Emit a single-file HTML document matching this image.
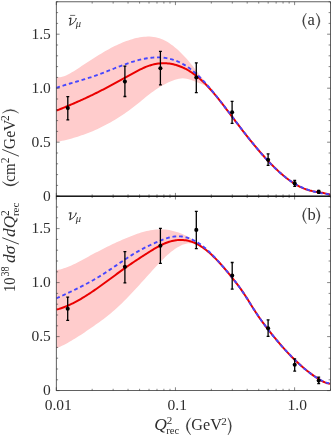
<!DOCTYPE html><html><head><meta charset="utf-8"><style>html,body{margin:0;padding:0;background:#fff;overflow:hidden}body{width:332px;height:435px;position:relative;font-family:"Liberation Serif",serif}</style></head><body><svg width="332" height="435" viewBox="0 0 332 435" style="position:absolute;left:0;top:0;will-change:transform;opacity:0.999"><rect width="332" height="435" fill="#fff"/><clipPath id="ct"><rect x="56.30" y="0" width="274.10" height="196.20"/></clipPath><clipPath id="cb"><rect x="56.30" y="196.20" width="274.10" height="194.40"/></clipPath><g clip-path="url(#ct)"><path d="M56.30 77.18 L58.25 77.29 L60.19 77.14 L62.14 76.77 L64.08 76.19 L66.03 75.43 L67.97 74.52 L69.92 73.49 L71.86 72.36 L73.81 71.16 L75.76 69.92 L77.70 68.66 L79.65 67.39 L81.59 66.12 L83.54 64.83 L85.48 63.55 L87.43 62.27 L89.37 61.00 L91.32 59.73 L93.27 58.48 L95.21 57.23 L97.16 56.01 L99.10 54.81 L101.05 53.63 L102.99 52.47 L104.94 51.34 L106.88 50.23 L108.83 49.16 L110.78 48.11 L112.72 47.10 L114.67 46.12 L116.61 45.18 L118.56 44.27 L120.50 43.41 L122.45 42.58 L124.39 41.80 L126.34 41.07 L128.29 40.38 L130.23 39.74 L132.18 39.15 L134.12 38.61 L136.07 38.12 L138.01 37.70 L139.96 37.33 L141.91 37.03 L143.85 36.80 L145.80 36.66 L147.74 36.59 L149.69 36.62 L151.63 36.74 L153.58 36.96 L155.52 37.29 L157.47 37.73 L159.42 38.29 L161.36 38.97 L163.31 39.78 L165.25 40.72 L167.20 41.81 L169.14 43.03 L171.09 44.38 L173.03 45.84 L174.98 47.41 L176.93 49.07 L178.87 50.83 L180.82 52.69 L182.76 54.65 L184.71 56.71 L186.65 58.87 L188.60 61.11 L190.54 63.42 L192.49 65.79 L194.44 68.20 L196.38 70.66 L198.33 73.15 L200.27 75.65 L202.22 78.16 L204.16 80.67 L206.11 83.16 L208.05 85.62 L210.00 88.05 L210.00 88.73 L208.05 87.30 L206.11 86.10 L204.16 85.07 L202.22 84.19 L200.27 83.42 L198.33 82.70 L196.38 82.01 L194.44 81.30 L192.49 80.54 L190.54 79.79 L188.60 79.15 L186.65 78.69 L184.71 78.42 L182.76 78.35 L180.82 78.47 L178.87 78.77 L176.93 79.21 L174.98 79.80 L173.03 80.49 L171.09 81.27 L169.14 82.12 L167.20 83.03 L165.25 84.00 L163.31 85.03 L161.36 86.12 L159.42 87.28 L157.47 88.50 L155.52 89.79 L153.58 91.14 L151.63 92.56 L149.69 94.04 L147.74 95.56 L145.80 97.11 L143.85 98.69 L141.91 100.29 L139.96 101.88 L138.01 103.46 L136.07 105.03 L134.12 106.56 L132.18 108.06 L130.23 109.52 L128.29 110.94 L126.34 112.33 L124.39 113.68 L122.45 115.00 L120.50 116.28 L118.56 117.53 L116.61 118.75 L114.67 119.93 L112.72 121.08 L110.78 122.20 L108.83 123.29 L106.88 124.34 L104.94 125.37 L102.99 126.36 L101.05 127.32 L99.10 128.25 L97.16 129.16 L95.21 130.03 L93.27 130.88 L91.32 131.70 L89.37 132.48 L87.43 133.25 L85.48 133.98 L83.54 134.69 L81.59 135.37 L79.65 136.03 L77.70 136.66 L75.76 137.27 L73.81 137.85 L71.86 138.41 L69.92 138.94 L67.97 139.45 L66.03 139.94 L64.08 140.40 L62.14 140.85 L60.19 141.27 L58.25 141.67 L56.30 142.05 Z" fill="#ffcccc" stroke="none"/><path d="M56.30 110.67 L57.68 110.13 L59.05 109.57 L60.43 109.02 L61.81 108.46 L63.19 107.90 L64.56 107.33 L65.94 106.76 L67.32 106.18 L68.70 105.60 L70.07 105.02 L71.45 104.43 L72.83 103.84 L74.21 103.24 L75.58 102.64 L76.96 102.04 L78.34 101.42 L79.72 100.81 L81.09 100.19 L82.47 99.56 L83.85 98.93 L85.23 98.30 L86.60 97.66 L87.98 97.01 L89.36 96.36 L90.73 95.70 L92.11 95.04 L93.49 94.37 L94.87 93.69 L96.24 93.01 L97.62 92.33 L99.00 91.63 L100.38 90.93 L101.75 90.23 L103.13 89.52 L104.51 88.80 L105.89 88.08 L107.26 87.35 L108.64 86.61 L110.02 85.87 L111.40 85.13 L112.77 84.38 L114.15 83.63 L115.53 82.88 L116.91 82.13 L118.28 81.37 L119.66 80.61 L121.04 79.86 L122.41 79.10 L123.79 78.34 L125.17 77.58 L126.55 76.83 L127.92 76.07 L129.30 75.32 L130.68 74.57 L132.06 73.82 L133.43 73.08 L134.81 72.34 L136.19 71.61 L137.57 70.88 L138.94 70.16 L140.32 69.46 L141.70 68.78 L143.08 68.13 L144.45 67.51 L145.83 66.92 L147.21 66.38 L148.58 65.88 L149.96 65.42 L151.34 65.01 L152.72 64.64 L154.09 64.31 L155.47 64.03 L156.85 63.79 L158.23 63.59 L159.60 63.44 L160.98 63.33 L162.36 63.26 L163.74 63.24 L165.11 63.26 L166.49 63.33 L167.87 63.44 L169.25 63.59 L170.62 63.79 L172.00 64.04 L173.38 64.33 L174.76 64.66 L176.13 65.04 L177.51 65.47 L178.89 65.94 L180.26 66.45 L181.64 67.01 L183.02 67.62 L184.40 68.27 L185.77 68.97 L187.15 69.71 L188.53 70.50 L189.91 71.34 L191.28 72.22 L192.66 73.15 L194.04 74.13 L195.42 75.15 L196.79 76.22 L198.17 77.33 L199.55 78.50 L200.93 79.70 L202.30 80.96 L203.68 82.27 L205.06 83.62 L206.44 85.02 L207.81 86.46 L209.19 87.95 L210.57 89.48 L211.94 91.05 L213.32 92.65 L214.70 94.29 L216.08 95.96 L217.45 97.66 L218.83 99.38 L220.21 101.13 L221.59 102.89 L222.96 104.67 L224.34 106.47 L225.72 108.27 L227.10 110.09 L228.47 111.91 L229.85 113.74 L231.23 115.57 L232.61 117.39 L233.98 119.21 L235.36 121.03 L236.74 122.84 L238.12 124.65 L239.49 126.45 L240.87 128.24 L242.25 130.03 L243.62 131.80 L245.00 133.56 L246.38 135.32 L247.76 137.06 L249.13 138.79 L250.51 140.51 L251.89 142.21 L253.27 143.90 L254.64 145.57 L256.02 147.23 L257.40 148.86 L258.78 150.49 L260.15 152.09 L261.53 153.67 L262.91 155.23 L264.29 156.78 L265.66 158.30 L267.04 159.79 L268.42 161.27 L269.79 162.72 L271.17 164.14 L272.55 165.54 L273.93 166.91 L275.30 168.26 L276.68 169.57 L278.06 170.86 L279.44 172.12 L280.81 173.35 L282.19 174.54 L283.57 175.70 L284.95 176.83 L286.32 177.92 L287.70 178.98 L289.08 180.01 L290.46 180.99 L291.83 181.94 L293.21 182.85 L294.59 183.72 L295.97 184.55 L297.34 185.34 L298.72 186.09 L300.10 186.80 L301.47 187.46 L302.85 188.08 L304.23 188.65 L305.61 189.18 L306.98 189.65 L308.36 190.09 L309.74 190.48 L311.12 190.82 L312.49 191.14 L313.87 191.43 L315.25 191.69 L316.63 191.94 L318.00 192.18 L319.38 192.41 L320.76 192.63 L322.14 192.86 L323.51 193.10 L324.89 193.36 L326.27 193.63 L327.65 193.93 L329.02 194.27 L330.40 194.63" fill="none" stroke="#ea0000" stroke-width="2.0" stroke-linejoin="round"/><path d="M56.30 87.89 L57.68 87.41 L59.05 86.94 L60.43 86.49 L61.81 86.04 L63.19 85.60 L64.56 85.17 L65.94 84.75 L67.32 84.33 L68.70 83.91 L70.07 83.50 L71.45 83.10 L72.83 82.69 L74.21 82.29 L75.58 81.89 L76.96 81.49 L78.34 81.09 L79.72 80.68 L81.09 80.28 L82.47 79.87 L83.85 79.45 L85.23 79.04 L86.60 78.61 L87.98 78.18 L89.36 77.74 L90.73 77.30 L92.11 76.84 L93.49 76.38 L94.87 75.90 L96.24 75.41 L97.62 74.91 L99.00 74.41 L100.38 73.89 L101.75 73.37 L103.13 72.84 L104.51 72.31 L105.89 71.77 L107.26 71.23 L108.64 70.68 L110.02 70.13 L111.40 69.59 L112.77 69.04 L114.15 68.49 L115.53 67.95 L116.91 67.41 L118.28 66.87 L119.66 66.34 L121.04 65.82 L122.41 65.30 L123.79 64.79 L125.17 64.29 L126.55 63.79 L127.92 63.31 L129.30 62.84 L130.68 62.38 L132.06 61.94 L133.43 61.51 L134.81 61.10 L136.19 60.70 L137.57 60.32 L138.94 59.96 L140.32 59.62 L141.70 59.30 L143.08 59.01 L144.45 58.73 L145.83 58.48 L147.21 58.25 L148.58 58.04 L149.96 57.87 L151.34 57.72 L152.72 57.60 L154.09 57.51 L155.47 57.45 L156.85 57.42 L158.23 57.42 L159.60 57.45 L160.98 57.52 L162.36 57.63 L163.74 57.77 L165.11 57.95 L166.49 58.16 L167.87 58.42 L169.25 58.71 L170.62 59.05 L172.00 59.43 L173.38 59.85 L174.76 60.32 L176.13 60.83 L177.51 61.38 L178.89 61.99 L180.26 62.64 L181.64 63.34 L183.02 64.09 L184.40 64.89 L185.77 65.74 L187.15 66.64 L188.53 67.60 L189.91 68.61 L191.28 69.66 L192.66 70.77 L194.04 71.92 L195.42 73.12 L196.79 74.36 L198.17 75.65 L199.55 76.98 L200.93 78.35 L202.30 79.76 L203.68 81.21 L205.06 82.70 L206.44 84.22 L207.81 85.78 L209.19 87.37 L210.57 88.99 L211.94 90.64 L213.32 92.31 L214.70 94.01 L216.08 95.73 L217.45 97.46 L218.83 99.21 L220.21 100.97 L221.59 102.75 L222.96 104.53 L224.34 106.32 L225.72 108.12 L227.10 109.93 L228.47 111.74 L229.85 113.55 L231.23 115.37 L232.61 117.19 L233.98 119.01 L235.36 120.83 L236.74 122.65 L238.12 124.46 L239.49 126.27 L240.87 128.08 L242.25 129.88 L243.62 131.67 L245.00 133.46 L246.38 135.23 L247.76 136.99 L249.13 138.75 L250.51 140.49 L251.89 142.21 L253.27 143.92 L254.64 145.61 L256.02 147.29 L257.40 148.95 L258.78 150.58 L260.15 152.20 L261.53 153.80 L262.91 155.37 L264.29 156.92 L265.66 158.45 L267.04 159.95 L268.42 161.43 L269.79 162.88 L271.17 164.30 L272.55 165.70 L273.93 167.07 L275.30 168.41 L276.68 169.72 L278.06 170.99 L279.44 172.24 L280.81 173.45 L282.19 174.63 L283.57 175.77 L284.95 176.88 L286.32 177.96 L287.70 178.99 L289.08 179.99 L290.46 180.95 L291.83 181.87 L293.21 182.75 L294.59 183.59 L295.97 184.38 L297.34 185.14 L298.72 185.86 L300.10 186.53 L301.47 187.18 L302.85 187.78 L304.23 188.35 L305.61 188.89 L306.98 189.40 L308.36 189.88 L309.74 190.33 L311.12 190.75 L312.49 191.15 L313.87 191.52 L315.25 191.86 L316.63 192.19 L318.00 192.49 L319.38 192.78 L320.76 193.04 L322.14 193.29 L323.51 193.53 L324.89 193.75 L326.27 193.96 L327.65 194.15 L329.02 194.34 L330.40 194.51" fill="none" stroke="#4646ff" stroke-width="1.85" stroke-dasharray="3.8 2.8" stroke-linejoin="round"/></g><g clip-path="url(#cb)"><path d="M56.30 270.06 L58.18 269.78 L60.06 269.40 L61.95 268.93 L63.83 268.37 L65.71 267.74 L67.59 267.03 L69.48 266.26 L71.36 265.44 L73.24 264.56 L75.12 263.65 L77.01 262.69 L78.89 261.71 L80.77 260.71 L82.65 259.70 L84.53 258.67 L86.42 257.65 L88.30 256.63 L90.18 255.62 L92.06 254.61 L93.95 253.61 L95.83 252.62 L97.71 251.64 L99.59 250.66 L101.47 249.69 L103.36 248.74 L105.24 247.79 L107.12 246.85 L109.00 245.93 L110.89 245.01 L112.77 244.11 L114.65 243.22 L116.53 242.35 L118.42 241.49 L120.30 240.64 L122.18 239.81 L124.06 238.99 L125.94 238.19 L127.83 237.41 L129.71 236.64 L131.59 235.90 L133.47 235.19 L135.36 234.50 L137.24 233.84 L139.12 233.21 L141.00 232.62 L142.88 232.07 L144.77 231.57 L146.65 231.10 L148.53 230.69 L150.41 230.32 L152.30 230.01 L154.18 229.76 L156.06 229.56 L157.94 229.42 L159.83 229.35 L161.71 229.35 L163.59 229.42 L165.47 229.56 L167.35 229.78 L169.24 230.07 L171.12 230.44 L173.00 230.88 L174.88 231.39 L176.77 231.97 L178.65 232.62 L180.53 233.33 L182.41 234.11 L184.29 234.96 L186.18 235.86 L188.06 236.83 L189.94 237.86 L191.82 238.94 L193.71 240.08 L195.59 241.28 L197.47 242.52 L199.35 243.83 L201.24 245.18 L203.12 246.58 L205.00 248.02 L205.00 249.65 L203.12 247.99 L201.24 246.60 L199.35 245.45 L197.47 244.55 L195.59 243.87 L193.71 243.42 L191.82 243.18 L189.94 243.14 L188.06 243.29 L186.18 243.63 L184.29 244.15 L182.41 244.83 L180.53 245.66 L178.65 246.64 L176.77 247.77 L174.88 249.01 L173.00 250.38 L171.12 251.86 L169.24 253.43 L167.35 255.10 L165.47 256.85 L163.59 258.67 L161.71 260.55 L159.83 262.49 L157.94 264.47 L156.06 266.49 L154.18 268.53 L152.30 270.58 L150.41 272.65 L148.53 274.73 L146.65 276.82 L144.77 278.90 L142.88 280.99 L141.00 283.07 L139.12 285.15 L137.24 287.21 L135.36 289.26 L133.47 291.29 L131.59 293.31 L129.71 295.30 L127.83 297.26 L125.94 299.19 L124.06 301.09 L122.18 302.96 L120.30 304.78 L118.42 306.56 L116.53 308.30 L114.65 309.98 L112.77 311.61 L110.89 313.20 L109.00 314.74 L107.12 316.24 L105.24 317.71 L103.36 319.14 L101.47 320.55 L99.59 321.92 L97.71 323.28 L95.83 324.61 L93.95 325.93 L92.06 327.24 L90.18 328.54 L88.30 329.83 L86.42 331.12 L84.53 332.39 L82.65 333.64 L80.77 334.88 L78.89 336.10 L77.01 337.30 L75.12 338.47 L73.24 339.62 L71.36 340.74 L69.48 341.83 L67.59 342.89 L65.71 343.91 L63.83 344.90 L61.95 345.84 L60.06 346.74 L58.18 347.60 L56.30 348.41 Z" fill="#ffcccc" stroke="none"/><path d="M56.30 309.64 L57.68 309.27 L59.05 308.87 L60.43 308.43 L61.81 307.97 L63.19 307.48 L64.56 306.96 L65.94 306.41 L67.32 305.83 L68.70 305.23 L70.07 304.61 L71.45 303.96 L72.83 303.28 L74.21 302.58 L75.58 301.86 L76.96 301.12 L78.34 300.36 L79.72 299.58 L81.09 298.78 L82.47 297.96 L83.85 297.12 L85.23 296.27 L86.60 295.40 L87.98 294.52 L89.36 293.62 L90.73 292.71 L92.11 291.79 L93.49 290.85 L94.87 289.91 L96.24 288.95 L97.62 287.98 L99.00 287.01 L100.38 286.03 L101.75 285.04 L103.13 284.04 L104.51 283.04 L105.89 282.04 L107.26 281.03 L108.64 280.02 L110.02 279.01 L111.40 277.99 L112.77 276.97 L114.15 275.96 L115.53 274.94 L116.91 273.93 L118.28 272.92 L119.66 271.92 L121.04 270.91 L122.41 269.92 L123.79 268.92 L125.17 267.94 L126.55 266.96 L127.92 265.99 L129.30 265.03 L130.68 264.08 L132.06 263.14 L133.43 262.21 L134.81 261.28 L136.19 260.37 L137.57 259.46 L138.94 258.56 L140.32 257.66 L141.70 256.77 L143.08 255.88 L144.45 255.00 L145.83 254.11 L147.21 253.23 L148.58 252.36 L149.96 251.49 L151.34 250.63 L152.72 249.79 L154.09 248.96 L155.47 248.15 L156.85 247.37 L158.23 246.61 L159.60 245.87 L160.98 245.17 L162.36 244.51 L163.74 243.88 L165.11 243.29 L166.49 242.75 L167.87 242.25 L169.25 241.80 L170.62 241.39 L172.00 241.04 L173.38 240.73 L174.76 240.47 L176.13 240.27 L177.51 240.12 L178.89 240.02 L180.26 239.97 L181.64 239.98 L183.02 240.04 L184.40 240.16 L185.77 240.34 L187.15 240.57 L188.53 240.87 L189.91 241.22 L191.28 241.64 L192.66 242.12 L194.04 242.66 L195.42 243.26 L196.79 243.93 L198.17 244.66 L199.55 245.46 L200.93 246.31 L202.30 247.22 L203.68 248.19 L205.06 249.22 L206.44 250.29 L207.81 251.42 L209.19 252.59 L210.57 253.82 L211.94 255.09 L213.32 256.40 L214.70 257.75 L216.08 259.14 L217.45 260.57 L218.83 262.04 L220.21 263.54 L221.59 265.08 L222.96 266.64 L224.34 268.23 L225.72 269.85 L227.10 271.50 L228.47 273.16 L229.85 274.85 L231.23 276.56 L232.61 278.29 L233.98 280.03 L235.36 281.79 L236.74 283.59 L238.12 285.42 L239.49 287.28 L240.87 289.20 L242.25 291.16 L243.62 293.18 L245.00 295.26 L246.38 297.40 L247.76 299.57 L249.13 301.78 L250.51 304.00 L251.89 306.21 L253.27 308.42 L254.64 310.59 L256.02 312.72 L257.40 314.79 L258.78 316.82 L260.15 318.79 L261.53 320.72 L262.91 322.61 L264.29 324.46 L265.66 326.29 L267.04 328.08 L268.42 329.86 L269.79 331.62 L271.17 333.36 L272.55 335.08 L273.93 336.78 L275.30 338.46 L276.68 340.12 L278.06 341.76 L279.44 343.38 L280.81 344.98 L282.19 346.56 L283.57 348.11 L284.95 349.64 L286.32 351.15 L287.70 352.63 L289.08 354.09 L290.46 355.52 L291.83 356.93 L293.21 358.31 L294.59 359.67 L295.97 361.00 L297.34 362.30 L298.72 363.58 L300.10 364.83 L301.47 366.05 L302.85 367.24 L304.23 368.41 L305.61 369.55 L306.98 370.66 L308.36 371.75 L309.74 372.81 L311.12 373.84 L312.49 374.84 L313.87 375.81 L315.25 376.76 L316.63 377.68 L318.00 378.57 L319.38 379.43 L320.76 380.26 L322.14 381.04 L323.51 381.76 L324.89 382.39 L326.27 382.92 L327.65 383.34 L329.02 383.63 L330.40 383.78" fill="none" stroke="#ea0000" stroke-width="2.0" stroke-linejoin="round"/><path d="M56.30 298.42 L57.68 297.78 L59.05 297.14 L60.43 296.50 L61.81 295.86 L63.19 295.22 L64.56 294.57 L65.94 293.93 L67.32 293.28 L68.70 292.63 L70.07 291.98 L71.45 291.33 L72.83 290.67 L74.21 290.00 L75.58 289.33 L76.96 288.66 L78.34 287.98 L79.72 287.29 L81.09 286.59 L82.47 285.89 L83.85 285.18 L85.23 284.46 L86.60 283.74 L87.98 283.00 L89.36 282.26 L90.73 281.50 L92.11 280.73 L93.49 279.95 L94.87 279.16 L96.24 278.36 L97.62 277.55 L99.00 276.72 L100.38 275.88 L101.75 275.02 L103.13 274.15 L104.51 273.27 L105.89 272.37 L107.26 271.47 L108.64 270.55 L110.02 269.63 L111.40 268.70 L112.77 267.76 L114.15 266.82 L115.53 265.88 L116.91 264.94 L118.28 264.00 L119.66 263.06 L121.04 262.12 L122.41 261.19 L123.79 260.26 L125.17 259.34 L126.55 258.43 L127.92 257.53 L129.30 256.64 L130.68 255.76 L132.06 254.90 L133.43 254.05 L134.81 253.22 L136.19 252.41 L137.57 251.62 L138.94 250.84 L140.32 250.09 L141.70 249.35 L143.08 248.62 L144.45 247.91 L145.83 247.22 L147.21 246.54 L148.58 245.87 L149.96 245.22 L151.34 244.57 L152.72 243.94 L154.09 243.31 L155.47 242.69 L156.85 242.08 L158.23 241.48 L159.60 240.90 L160.98 240.33 L162.36 239.78 L163.74 239.26 L165.11 238.77 L166.49 238.31 L167.87 237.88 L169.25 237.50 L170.62 237.17 L172.00 236.88 L173.38 236.64 L174.76 236.46 L176.13 236.35 L177.51 236.29 L178.89 236.30 L180.26 236.37 L181.64 236.51 L183.02 236.71 L184.40 236.97 L185.77 237.29 L187.15 237.67 L188.53 238.11 L189.91 238.61 L191.28 239.18 L192.66 239.80 L194.04 240.48 L195.42 241.22 L196.79 242.01 L198.17 242.87 L199.55 243.78 L200.93 244.75 L202.30 245.77 L203.68 246.85 L205.06 247.99 L206.44 249.18 L207.81 250.42 L209.19 251.71 L210.57 253.05 L211.94 254.43 L213.32 255.86 L214.70 257.31 L216.08 258.81 L217.45 260.32 L218.83 261.87 L220.21 263.44 L221.59 265.02 L222.96 266.62 L224.34 268.24 L225.72 269.86 L227.10 271.48 L228.47 273.12 L229.85 274.77 L231.23 276.43 L232.61 278.13 L233.98 279.85 L235.36 281.61 L236.74 283.41 L238.12 285.27 L239.49 287.17 L240.87 289.14 L242.25 291.17 L243.62 293.26 L245.00 295.38 L246.38 297.54 L247.76 299.72 L249.13 301.91 L250.51 304.11 L251.89 306.29 L253.27 308.46 L254.64 310.60 L256.02 312.70 L257.40 314.76 L258.78 316.77 L260.15 318.74 L261.53 320.68 L262.91 322.59 L264.29 324.47 L265.66 326.32 L267.04 328.15 L268.42 329.95 L269.79 331.72 L271.17 333.47 L272.55 335.19 L273.93 336.88 L275.30 338.56 L276.68 340.20 L278.06 341.83 L279.44 343.43 L280.81 345.00 L282.19 346.56 L283.57 348.09 L284.95 349.59 L286.32 351.08 L287.70 352.55 L289.08 353.99 L290.46 355.41 L291.83 356.82 L293.21 358.20 L294.59 359.56 L295.97 360.90 L297.34 362.23 L298.72 363.53 L300.10 364.81 L301.47 366.06 L302.85 367.28 L304.23 368.48 L305.61 369.65 L306.98 370.78 L308.36 371.88 L309.74 372.95 L311.12 373.98 L312.49 374.98 L313.87 375.93 L315.25 376.85 L316.63 377.72 L318.00 378.55 L319.38 379.34 L320.76 380.07 L322.14 380.76 L323.51 381.40 L324.89 381.99 L326.27 382.52 L327.65 383.00 L329.02 383.43 L330.40 383.80" fill="none" stroke="#4646ff" stroke-width="1.85" stroke-dasharray="3.8 2.8" stroke-linejoin="round"/></g><path d="M67.80 96.70V119.90M66.35 96.70H69.25M66.35 119.90H69.25" stroke="#000" stroke-width="1.3" fill="none"/><circle cx="67.80" cy="108.10" r="2.05" fill="#000"/><path d="M124.90 66.10V96.50M123.45 66.10H126.35M123.45 96.50H126.35" stroke="#000" stroke-width="1.3" fill="none"/><circle cx="124.90" cy="81.60" r="2.05" fill="#000"/><path d="M160.40 51.30V84.90M158.95 51.30H161.85M158.95 84.90H161.85" stroke="#000" stroke-width="1.3" fill="none"/><circle cx="160.40" cy="68.20" r="2.05" fill="#000"/><path d="M196.30 62.90V92.70M194.85 62.90H197.75M194.85 92.70H197.75" stroke="#000" stroke-width="1.3" fill="none"/><circle cx="196.30" cy="77.50" r="2.05" fill="#000"/><path d="M232.10 101.30V123.40M230.65 101.30H233.55M230.65 123.40H233.55" stroke="#000" stroke-width="1.3" fill="none"/><circle cx="232.10" cy="112.20" r="2.05" fill="#000"/><path d="M268.10 153.90V165.30M266.65 153.90H269.55M266.65 165.30H269.55" stroke="#000" stroke-width="1.3" fill="none"/><circle cx="268.10" cy="159.80" r="2.05" fill="#000"/><path d="M294.70 180.50V186.30M293.25 180.50H296.15M293.25 186.30H296.15" stroke="#000" stroke-width="1.3" fill="none"/><circle cx="294.70" cy="183.40" r="2.05" fill="#000"/><path d="M318.70 190.30V193.30M317.25 190.30H320.15M317.25 193.30H320.15" stroke="#000" stroke-width="1.3" fill="none"/><circle cx="318.70" cy="191.80" r="2.05" fill="#000"/><path d="M67.70 297.20V320.30M66.25 297.20H69.15M66.25 320.30H69.15" stroke="#000" stroke-width="1.3" fill="none"/><circle cx="67.70" cy="308.70" r="2.05" fill="#000"/><path d="M124.90 251.60V282.80M123.45 251.60H126.35M123.45 282.80H126.35" stroke="#000" stroke-width="1.3" fill="none"/><circle cx="124.90" cy="266.80" r="2.05" fill="#000"/><path d="M160.40 228.40V263.30M158.95 228.40H161.85M158.95 263.30H161.85" stroke="#000" stroke-width="1.3" fill="none"/><circle cx="160.40" cy="245.80" r="2.05" fill="#000"/><path d="M196.30 211.30V248.70M194.85 211.30H197.75M194.85 248.70H197.75" stroke="#000" stroke-width="1.3" fill="none"/><circle cx="196.30" cy="229.90" r="2.05" fill="#000"/><path d="M232.20 262.50V289.20M230.75 262.50H233.65M230.75 289.20H233.65" stroke="#000" stroke-width="1.3" fill="none"/><circle cx="232.20" cy="275.60" r="2.05" fill="#000"/><path d="M268.10 319.90V336.40M266.65 319.90H269.55M266.65 336.40H269.55" stroke="#000" stroke-width="1.3" fill="none"/><circle cx="268.10" cy="328.20" r="2.05" fill="#000"/><path d="M294.70 358.90V371.10M293.25 358.90H296.15M293.25 371.10H296.15" stroke="#000" stroke-width="1.3" fill="none"/><circle cx="294.70" cy="364.80" r="2.05" fill="#000"/><path d="M318.70 377.20V383.70M317.25 377.20H320.15M317.25 383.70H320.15" stroke="#000" stroke-width="1.3" fill="none"/><circle cx="318.70" cy="380.60" r="2.05" fill="#000"/><rect x="56.30" y="1.80" width="274.10" height="194.40" fill="none" stroke="#3a3a3a" stroke-width="0.8"/><path d="M56.30 196.20h3.30M330.40 196.20h-3.30M56.30 185.40h1.80M330.40 185.40h-1.80M56.30 174.60h1.80M330.40 174.60h-1.80M56.30 163.80h1.80M330.40 163.80h-1.80M56.30 153.00h1.80M330.40 153.00h-1.80M56.30 142.20h3.30M330.40 142.20h-3.30M56.30 131.40h1.80M330.40 131.40h-1.80M56.30 120.60h1.80M330.40 120.60h-1.80M56.30 109.80h1.80M330.40 109.80h-1.80M56.30 99.00h1.80M330.40 99.00h-1.80M56.30 88.20h3.30M330.40 88.20h-3.30M56.30 77.40h1.80M330.40 77.40h-1.80M56.30 66.60h1.80M330.40 66.60h-1.80M56.30 55.80h1.80M330.40 55.80h-1.80M56.30 45.00h1.80M330.40 45.00h-1.80M56.30 34.20h3.30M330.40 34.20h-3.30M56.30 23.40h1.80M330.40 23.40h-1.80M56.30 12.60h1.80M330.40 12.60h-1.80M56.30 1.80h1.80M330.40 1.80h-1.80M56.30 196.20v-3.30M56.30 1.80v3.30M92.17 196.20v-1.80M92.17 1.80v1.80M113.15 196.20v-1.80M113.15 1.80v1.80M128.04 196.20v-1.80M128.04 1.80v1.80M139.58 196.20v-1.80M139.58 1.80v1.80M149.02 196.20v-1.80M149.02 1.80v1.80M156.99 196.20v-1.80M156.99 1.80v1.80M163.90 196.20v-1.80M163.90 1.80v1.80M170.00 196.20v-1.80M170.00 1.80v1.80M175.45 196.20v-3.30M175.45 1.80v3.30M211.32 196.20v-1.80M211.32 1.80v1.80M232.30 196.20v-1.80M232.30 1.80v1.80M247.19 196.20v-1.80M247.19 1.80v1.80M258.73 196.20v-1.80M258.73 1.80v1.80M268.17 196.20v-1.80M268.17 1.80v1.80M276.14 196.20v-1.80M276.14 1.80v1.80M283.05 196.20v-1.80M283.05 1.80v1.80M289.15 196.20v-1.80M289.15 1.80v1.80M294.60 196.20v-3.30M294.60 1.80v3.30M330.47 196.20v-1.80M330.47 1.80v1.80" stroke="#333" stroke-width="0.6" fill="none"/><rect x="56.30" y="196.20" width="274.10" height="194.40" fill="none" stroke="#3a3a3a" stroke-width="0.8"/><path d="M56.30 390.60h3.30M330.40 390.60h-3.30M56.30 379.80h1.80M330.40 379.80h-1.80M56.30 369.00h1.80M330.40 369.00h-1.80M56.30 358.20h1.80M330.40 358.20h-1.80M56.30 347.40h1.80M330.40 347.40h-1.80M56.30 336.60h3.30M330.40 336.60h-3.30M56.30 325.80h1.80M330.40 325.80h-1.80M56.30 315.00h1.80M330.40 315.00h-1.80M56.30 304.20h1.80M330.40 304.20h-1.80M56.30 293.40h1.80M330.40 293.40h-1.80M56.30 282.60h3.30M330.40 282.60h-3.30M56.30 271.80h1.80M330.40 271.80h-1.80M56.30 261.00h1.80M330.40 261.00h-1.80M56.30 250.20h1.80M330.40 250.20h-1.80M56.30 239.40h1.80M330.40 239.40h-1.80M56.30 228.60h3.30M330.40 228.60h-3.30M56.30 217.80h1.80M330.40 217.80h-1.80M56.30 207.00h1.80M330.40 207.00h-1.80M56.30 196.20h1.80M330.40 196.20h-1.80M56.30 390.60v-3.30M56.30 196.20v3.30M92.17 390.60v-1.80M92.17 196.20v1.80M113.15 390.60v-1.80M113.15 196.20v1.80M128.04 390.60v-1.80M128.04 196.20v1.80M139.58 390.60v-1.80M139.58 196.20v1.80M149.02 390.60v-1.80M149.02 196.20v1.80M156.99 390.60v-1.80M156.99 196.20v1.80M163.90 390.60v-1.80M163.90 196.20v1.80M170.00 390.60v-1.80M170.00 196.20v1.80M175.45 390.60v-3.30M175.45 196.20v3.30M211.32 390.60v-1.80M211.32 196.20v1.80M232.30 390.60v-1.80M232.30 196.20v1.80M247.19 390.60v-1.80M247.19 196.20v1.80M258.73 390.60v-1.80M258.73 196.20v1.80M268.17 390.60v-1.80M268.17 196.20v1.80M276.14 390.60v-1.80M276.14 196.20v1.80M283.05 390.60v-1.80M283.05 196.20v1.80M289.15 390.60v-1.80M289.15 196.20v1.80M294.60 390.60v-3.30M294.60 196.20v3.30M330.47 390.60v-1.80M330.47 196.20v1.80" stroke="#333" stroke-width="0.6" fill="none"/><path d="M56.30 196.20H330.40" stroke="#000" stroke-width="1"/><text x="50.80" y="200.80" style="font-family:'Liberation Serif',serif" font-size="15.5" text-anchor="end" fill="#2e2e2e">0</text><text x="50.80" y="146.80" style="font-family:'Liberation Serif',serif" font-size="15.5" text-anchor="end" fill="#2e2e2e">0.5</text><text x="50.80" y="92.80" style="font-family:'Liberation Serif',serif" font-size="15.5" text-anchor="end" fill="#2e2e2e">1.0</text><text x="50.80" y="38.80" style="font-family:'Liberation Serif',serif" font-size="15.5" text-anchor="end" fill="#2e2e2e">1.5</text><text x="50.80" y="395.40" style="font-family:'Liberation Serif',serif" font-size="15.5" text-anchor="end" fill="#2e2e2e">0</text><text x="50.80" y="341.20" style="font-family:'Liberation Serif',serif" font-size="15.5" text-anchor="end" fill="#2e2e2e">0.5</text><text x="50.80" y="287.20" style="font-family:'Liberation Serif',serif" font-size="15.5" text-anchor="end" fill="#2e2e2e">1.0</text><text x="50.80" y="233.20" style="font-family:'Liberation Serif',serif" font-size="15.5" text-anchor="end" fill="#2e2e2e">1.5</text><text x="58.20" y="409.50" style="font-family:'Liberation Serif',serif" font-size="15.5" text-anchor="middle" fill="#2e2e2e">0.01</text><text x="177.30" y="409.50" style="font-family:'Liberation Serif',serif" font-size="15.5" text-anchor="middle" fill="#2e2e2e">0.1</text><text x="297.20" y="409.50" style="font-family:'Liberation Serif',serif" font-size="15.5" text-anchor="middle" fill="#2e2e2e">1.0</text><text x="307.60" y="25.00" style="font-family:'Liberation Serif',serif" font-size="16.5" text-anchor="start" fill="#2e2e2e">a</text><path d="M306.40 13.10Q298.80 21.15 306.40 29.20Q301.00 21.15 306.40 13.10Z" fill="#2e2e2e" stroke="#2e2e2e" stroke-width="0.35" stroke-linejoin="round"/><path d="M316.20 13.10Q323.80 21.15 316.20 29.20Q321.60 21.15 316.20 13.10Z" fill="#2e2e2e" stroke="#2e2e2e" stroke-width="0.35" stroke-linejoin="round"/><text x="307.60" y="219.60" style="font-family:'Liberation Serif',serif" font-size="16.5" text-anchor="start" fill="#2e2e2e">b</text><path d="M306.40 207.70Q298.80 215.75 306.40 223.80Q301.00 215.75 306.40 207.70Z" fill="#2e2e2e" stroke="#2e2e2e" stroke-width="0.35" stroke-linejoin="round"/><path d="M316.20 207.70Q323.80 215.75 316.20 223.80Q321.60 215.75 316.20 207.70Z" fill="#2e2e2e" stroke="#2e2e2e" stroke-width="0.35" stroke-linejoin="round"/><g transform="translate(0,0.00)" fill="none" stroke="#2e2e2e" stroke-linejoin="round" stroke-linecap="round"><path d="M69.2 18.45L70.95 18.1L69.95 25.0" stroke-width="1.15"/><path d="M69.95 25.0Q75.0 23.3 76.2 18.6" stroke-width="0.95"/><circle cx="76.0" cy="18.5" r="0.55" fill="#2e2e2e" stroke="none"/></g><text x="75.80" y="27.10" style="font-family:'Liberation Serif',serif;font-style:italic" font-size="10.5" text-anchor="start" fill="#2e2e2e">μ</text><path d="M70.1 15.4h5.1" stroke="#2e2e2e" stroke-width="0.7"/><g transform="translate(0,194.60)" fill="none" stroke="#2e2e2e" stroke-linejoin="round" stroke-linecap="round"><path d="M69.2 18.45L70.95 18.1L69.95 25.0" stroke-width="1.15"/><path d="M69.95 25.0Q75.0 23.3 76.2 18.6" stroke-width="0.95"/><circle cx="76.0" cy="18.5" r="0.55" fill="#2e2e2e" stroke="none"/></g><text x="75.80" y="221.70" style="font-family:'Liberation Serif',serif;font-style:italic" font-size="10.5" text-anchor="start" fill="#2e2e2e">μ</text><text x="154.20" y="430.00" style="font-family:'Liberation Serif',serif;font-style:italic" font-size="17" text-anchor="start" fill="#2e2e2e" textLength="12.60" lengthAdjust="spacingAndGlyphs">Q</text><text x="166.70" y="424.20" style="font-family:'Liberation Serif',serif" font-size="11" text-anchor="start" fill="#2e2e2e">2</text><text x="166.30" y="434.20" style="font-family:'Liberation Serif',serif" font-size="11" text-anchor="start" fill="#2e2e2e" textLength="13.00" lengthAdjust="spacingAndGlyphs">rec</text><path d="M190.70 417.80Q181.90 426.40 190.70 435.00Q184.10 426.40 190.70 417.80Z" fill="#2e2e2e" stroke="#2e2e2e" stroke-width="0.35" stroke-linejoin="round"/><text x="191.30" y="430.00" style="font-family:'Liberation Serif',serif" font-size="16.5" text-anchor="start" fill="#2e2e2e" textLength="30.60" lengthAdjust="spacingAndGlyphs">GeV</text><text x="221.20" y="425.00" style="font-family:'Liberation Serif',serif" font-size="11" text-anchor="start" fill="#2e2e2e">2</text><path d="M228.00 417.80Q234.80 426.40 228.00 435.00Q232.60 426.40 228.00 417.80Z" fill="#2e2e2e" stroke="#2e2e2e" stroke-width="0.35" stroke-linejoin="round"/><path d="M2.30 181.70Q10.60 190.10 18.90 181.70Q10.60 187.90 2.30 181.70Z" fill="#2e2e2e" stroke="#2e2e2e" stroke-width="0.35" stroke-linejoin="round"/><path d="M2.30 113.10Q10.50 105.70 18.70 113.10Q10.50 107.90 2.30 113.10Z" fill="#2e2e2e" stroke="#2e2e2e" stroke-width="0.35" stroke-linejoin="round"/><g transform="rotate(-90)"><text x="-292.00" y="15.00" style="font-family:'Liberation Serif',serif" font-size="16.5" text-anchor="start" fill="#2e2e2e" textLength="14.60" lengthAdjust="spacingAndGlyphs">10</text><text x="-276.60" y="8.70" style="font-family:'Liberation Serif',serif" font-size="11.5" text-anchor="start" fill="#2e2e2e" textLength="10.00" lengthAdjust="spacingAndGlyphs">38</text><text x="-263.00" y="15.00" style="font-family:'Liberation Serif',serif;font-style:italic" font-size="17" text-anchor="start" fill="#2e2e2e" textLength="17.30" lengthAdjust="spacingAndGlyphs">dσ</text><path d="M-244.1 18.9L-237.7 2.3" stroke="#2e2e2e" stroke-width="0.9" fill="none"/><text x="-236.90" y="15.00" style="font-family:'Liberation Serif',serif;font-style:italic" font-size="17" text-anchor="start" fill="#2e2e2e" textLength="21.00" lengthAdjust="spacingAndGlyphs">dQ</text><text x="-216.10" y="8.70" style="font-family:'Liberation Serif',serif" font-size="11.5" text-anchor="start" fill="#2e2e2e">2</text><text x="-216.10" y="18.90" style="font-family:'Liberation Serif',serif" font-size="11" text-anchor="start" fill="#2e2e2e" textLength="13.40" lengthAdjust="spacingAndGlyphs">rec</text><text x="-181.80" y="15.00" style="font-family:'Liberation Serif',serif" font-size="16.5" text-anchor="start" fill="#2e2e2e" textLength="18.40" lengthAdjust="spacingAndGlyphs">cm</text><text x="-163.20" y="8.70" style="font-family:'Liberation Serif',serif" font-size="11.5" text-anchor="start" fill="#2e2e2e">2</text><path d="M-156.2 18.9L-149.4 2.3" stroke="#2e2e2e" stroke-width="0.9" fill="none"/><text x="-149.20" y="15.00" style="font-family:'Liberation Serif',serif" font-size="17" text-anchor="start" fill="#2e2e2e" textLength="29.60" lengthAdjust="spacingAndGlyphs">GeV</text><text x="-121.00" y="8.70" style="font-family:'Liberation Serif',serif" font-size="11.5" text-anchor="start" fill="#2e2e2e">2</text></g></svg></body></html>
